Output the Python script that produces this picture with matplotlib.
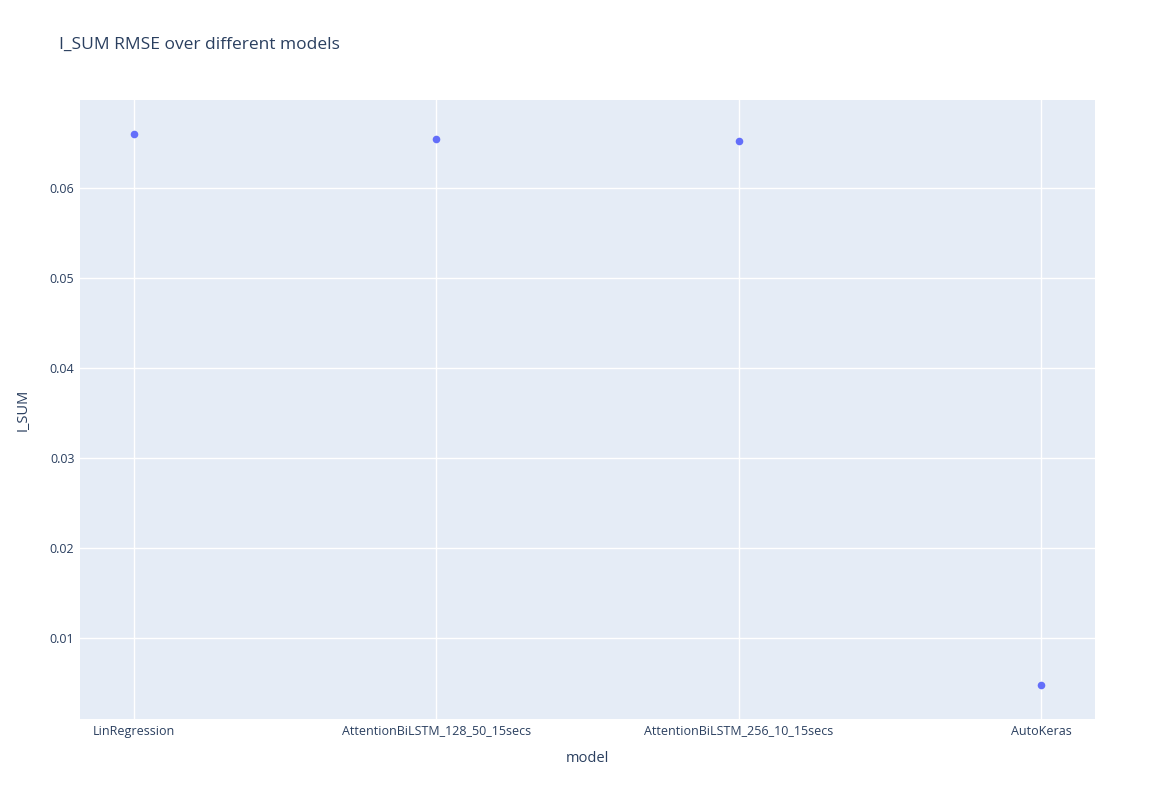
import matplotlib
matplotlib.use("Agg")
import matplotlib.pyplot as plt

plt.rcParams['font.family'] = ['Open Sans', 'DejaVu Sans']

models = ["LinRegression", "AttentionBiLSTM_128_50_15secs", "AttentionBiLSTM_256_10_15secs", "AutoKeras"]
values = [0.0660, 0.06544, 0.06517, 0.00478]

W, H = 1175, 800
fig = plt.figure(figsize=(W/100, H/100), dpi=100)
ax = fig.add_axes([80/W, (H-719)/H, 1015/W, 619/H])
ax.set_facecolor("#E5ECF6")
for s in ax.spines.values():
    s.set_visible(False)
x = list(range(len(models)))
ax.scatter(x, values, s=30, color="#636EFA", zorder=3, linewidths=0)
ax.set_xlim(-0.179, 3.179)
ax.set_ylim(0.0010, 0.06978)
ax.set_xticks(x)
ax.set_xticklabels(models)
ax.set_yticks([0.01, 0.02, 0.03, 0.04, 0.05, 0.06])
ax.set_yticklabels(["0.01", "0.02", "0.03", "0.04", "0.05", "0.06"])
ax.grid(True, color="white", linewidth=1)
ax.set_axisbelow(True)
ax.tick_params(length=0, labelsize=9, colors="#2a3f5f", pad=4)
ax.set_xlabel("model", fontsize=10.5, color="#2a3f5f", labelpad=10)
ax.set_ylabel("I_SUM", fontsize=10.5, color="#2a3f5f", labelpad=14)
fig.text(59/W, 1-45/H, "I_SUM RMSE over different models", fontsize=12.5, color="#2a3f5f", va="center")
fig.savefig("out.png", dpi=100, facecolor="white")
